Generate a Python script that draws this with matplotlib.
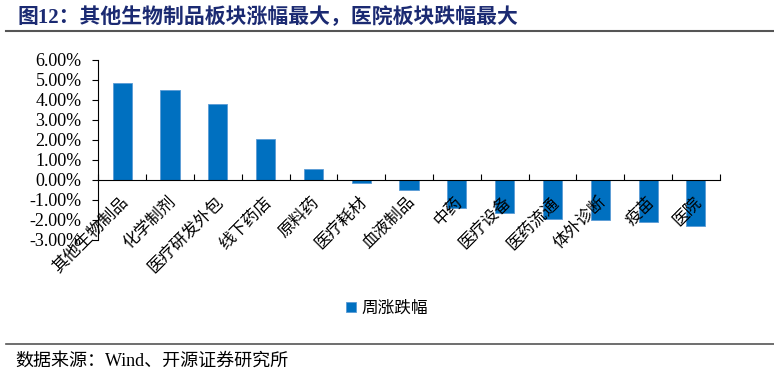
import numpy as np
import matplotlib
matplotlib.use("Agg")
import matplotlib.pyplot as plt
from matplotlib.lines import Line2D
from matplotlib.ticker import FuncFormatter

plt.rcParams['font.family'] = ['Liberation Serif', 'Noto Sans CJK SC', 'DejaVu Sans']
plt.rcParams['axes.unicode_minus'] = False

# data
categories = ["其他生物制品", "化学制剂", "医疗研发外包", "线下药店", "原料药", "医疗耗材",
              "血液制品", "中药", "医疗设备", "医药流通", "体外诊断", "疫苗", "医院"]
weekly_change = [4.83, 4.50, 3.78, 2.03, 0.55, -0.13, -0.52, -1.38, -1.67, -1.95, -1.98, -2.08, -2.30]
y_ticks = [-3, -2, -1, 0, 1, 2, 3, 4, 5, 6]

bar_color = "#0070C0"
title_color = "#1B2A72"
cjk = ['Noto Sans CJK SC', 'DejaVu Sans']

fig = plt.figure(figsize=(7.74, 3.74), dpi=100)
ax = fig.add_axes([0.127, 0.3583, 0.803, 0.4813])

x = np.arange(len(categories))
ax.bar(x, weekly_change, width=0.4, color=bar_color, edgecolor="#5B9BD5",
       linewidth=0.6, label="周涨跌幅", zorder=2)

ax.set_xlim(-0.5, len(categories) - 0.5)
ax.set_ylim(-3, 6)
ax.set_yticks(y_ticks)
ax.yaxis.set_major_formatter(FuncFormatter(lambda v, p: "{:.2f}%".format(v)))
ax.tick_params(axis='y', direction='out', length=4, width=0.8, labelsize=13, pad=8)

ax.spines['top'].set_visible(False)
ax.spines['right'].set_visible(False)
ax.spines['bottom'].set_position(('data', 0))
ax.spines['left'].set_linewidth(0.8)
ax.spines['bottom'].set_linewidth(0.8)

ax.set_xticks(np.arange(-0.5, len(categories), 1.0))
ax.set_xticklabels([])
ax.tick_params(axis='x', direction='in', length=4, width=0.8)

for i, name in enumerate(categories):
    ax.annotate(name, xy=(i + 0.07, 0), xytext=(0, -14), textcoords='offset points',
                rotation=45, rotation_mode='anchor', ha='right', va='center',
                fontsize=12, family=cjk, zorder=3)

# legend
handles, labels = ax.get_legend_handles_labels()
fig.legend(handles, labels, loc='center', bbox_to_anchor=(0.5, 0.176),
           frameon=False, prop={'family': cjk, 'size': 12},
           handlelength=0.6, handleheight=0.6, handletextpad=0.3)

# title and rules
fig.text(0.022, 0.952, "图12：其他生物制品板块涨幅最大，医院板块跌幅最大",
         fontsize=15, fontweight='bold', color=title_color, va='center', ha='left',
         family=['Liberation Serif', 'Noto Sans CJK SC'])
fig.add_artist(Line2D([0.008, 1.0], [1 - 31 / 374, 1 - 31 / 374], color="#555555", lw=1.5))
fig.add_artist(Line2D([0.008, 1.0], [1 - 344 / 374, 1 - 344 / 374], color="#555555", lw=1.2))
fig.text(0.02, 1 - 361 / 374, "数据来源：Wind、开源证券研究所", fontsize=13, va='center',
         ha='left', family=['Liberation Serif', 'Noto Sans CJK SC'])

fig.savefig("out.png", dpi=100)
